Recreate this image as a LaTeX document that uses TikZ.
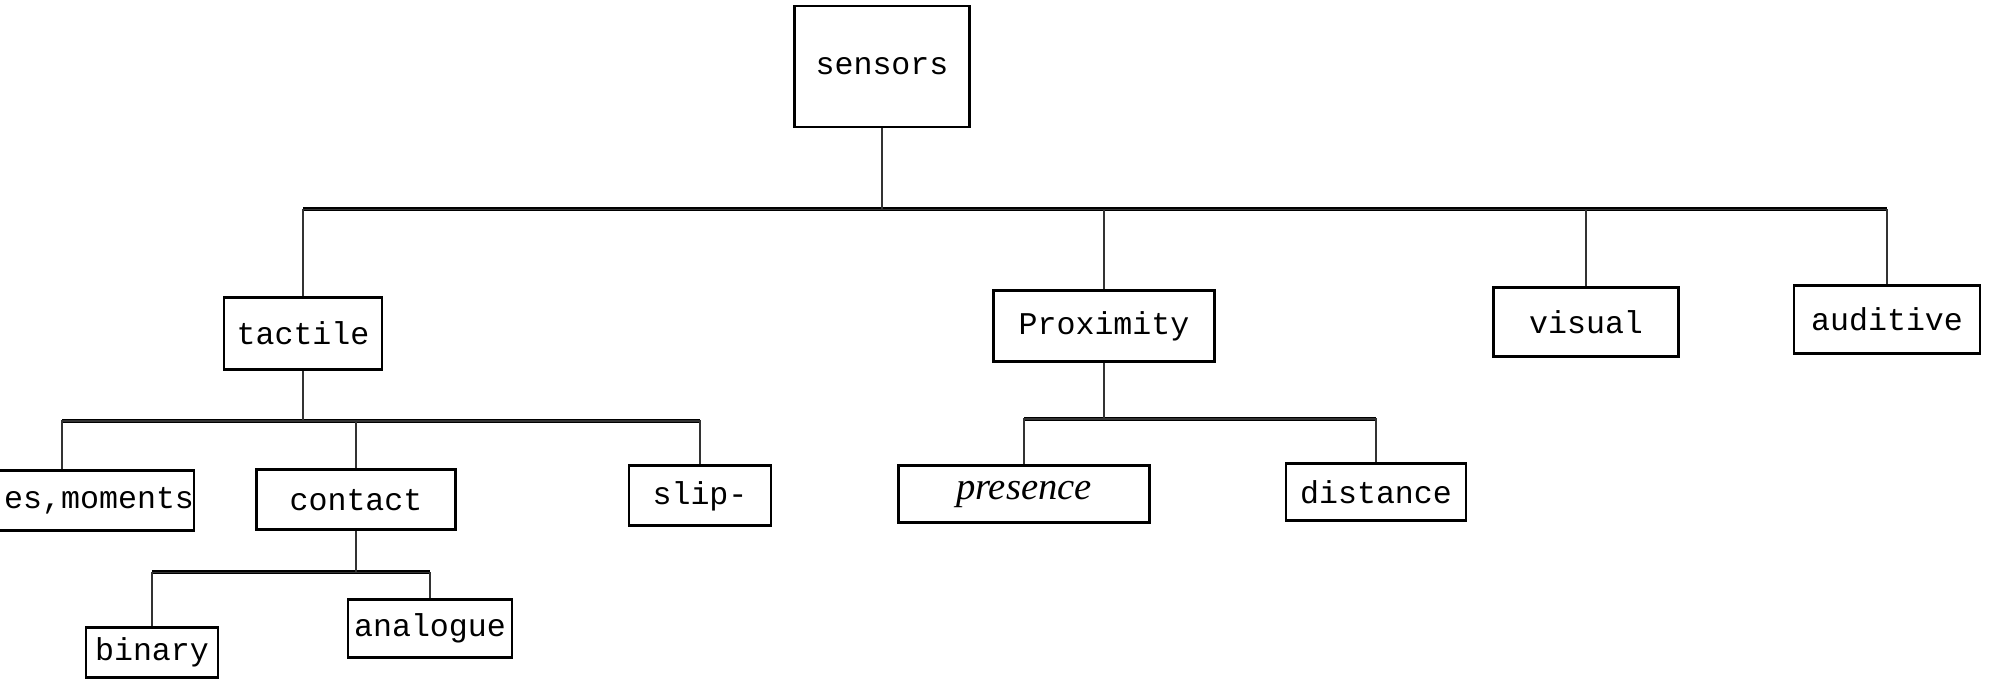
\documentclass[tikz,border=0pt]{standalone}
\usepackage{fontspec}
\setmonofont{Liberation Mono}
\newfontfamily\manoescrita{Liberation Serif}
\tikzstyle{caja}=[draw, line width=0.8pt, font=\ttfamily\fontsize{9}{10}\selectfont,
  inner sep=0pt, minimum height=0.6cm]
\tikzstyle{stem} = [draw, line width=0.4pt, color=black!80]
\tikzstyle{bar} = [draw, line width=1.1pt, color=black]

\begin{document}
\begin{tikzpicture}

  \useasboundingbox (0,0) rectangle (19.9,-6.8);

  % Draw diagram elements
  \path (8.82,-0.665) node (s1) [caja, minimum width=1.75cm, minimum height=1.21cm] {sensors};

  \path (s1.south)+(-5.79,-2.05) node (s2) [caja, minimum width=1.58cm, minimum height=0.72cm] {tactile};
  \path (s1.south)+(2.22,-1.975) node (s3) [caja, minimum width=2.21cm, minimum height=0.71cm] {Proximity};
  \path (s1.south)+(7.04,-1.935) node (s4) [caja, minimum width=1.85cm, minimum height=0.69cm] {visual};
  \path (s1.south)+(10.05,-1.91) node (s5) [caja, minimum width=1.86cm, minimum height=0.68cm] {auditive};

  \path (s2.south)+(-2.41,-1.30) node (s6) [caja, text width=2.64cm, align=right] {es,moments};
  \path (s2.south)+(0.53,-1.29) node (s7) [caja, minimum width=1.99cm] {contact};
  \path (s2.south)+(3.97,-1.25) node (s8) [caja, minimum width=1.42cm] {slip-};

  \path (s3.south)+(-0.80,-1.315) node (s9) [caja, minimum width=2.51cm, minimum height=0.57cm,
    font=\manoescrita\itshape\fontsize{11}{11}\selectfont] {presence};
  \path (s3.south)+(2.72,-1.295) node (s10) [caja, minimum width=1.8cm, minimum height=0.57cm] {distance};

  \path (s7.south)+(-2.04,-1.21) node (s11) [caja, minimum width=1.32cm, minimum height=0.5cm] {binary};
  \path (s7.south)+(0.74,-0.97) node (s12) [caja, minimum width=1.64cm, minimum height=0.58cm] {analogue};

  % Branch points
  \path (s1.south)+(0.0,-0.81) coordinate (b1);
  \path (s2.south)+(0.0,-0.50) coordinate (b2);
  \path (s3.south)+(0.0,-0.56) coordinate (b3);
  \path (s7.south)+(0.0,-0.41) coordinate (b4);

  % Draw the bars
  \path [bar] (s2.north |- b1) -- (s5.north |- b1);
  \path [bar] (s6.north |- b2) -- (s8.north |- b2);
  \path [bar] (s9.north |- b3) -- (s10.north |- b3);
  \path [bar] (s11.north |- b4) -- (s12.north |- b4);

  % Draw lines between elements
  \path [stem] (s1.south) -- (b1) -| (s2.north);
  \path [stem] (s1.south) -- (b1) -| (s3.north);
  \path [stem] (s1.south) -- (b1) -| (s4.north);
  \path [stem] (s1.south) -- (b1) -| (s5.north);

  \path [stem] (s2.south) -- (b2) -| (s6.north);
  \path [stem] (s2.south) -- (b2) -| (s7.north);
  \path [stem] (s2.south) -- (b2) -| (s8.north);

  \path [stem] (s3.south) -- (b3) -| (s9.north);
  \path [stem] (s3.south) -- (b3) -| (s10.north);

  \path [stem] (s7.south) -- (b4) -| (s11.north);
  \path [stem] (s7.south) -- (b4) -| (s12.north);
\end{tikzpicture}
\end{document}
